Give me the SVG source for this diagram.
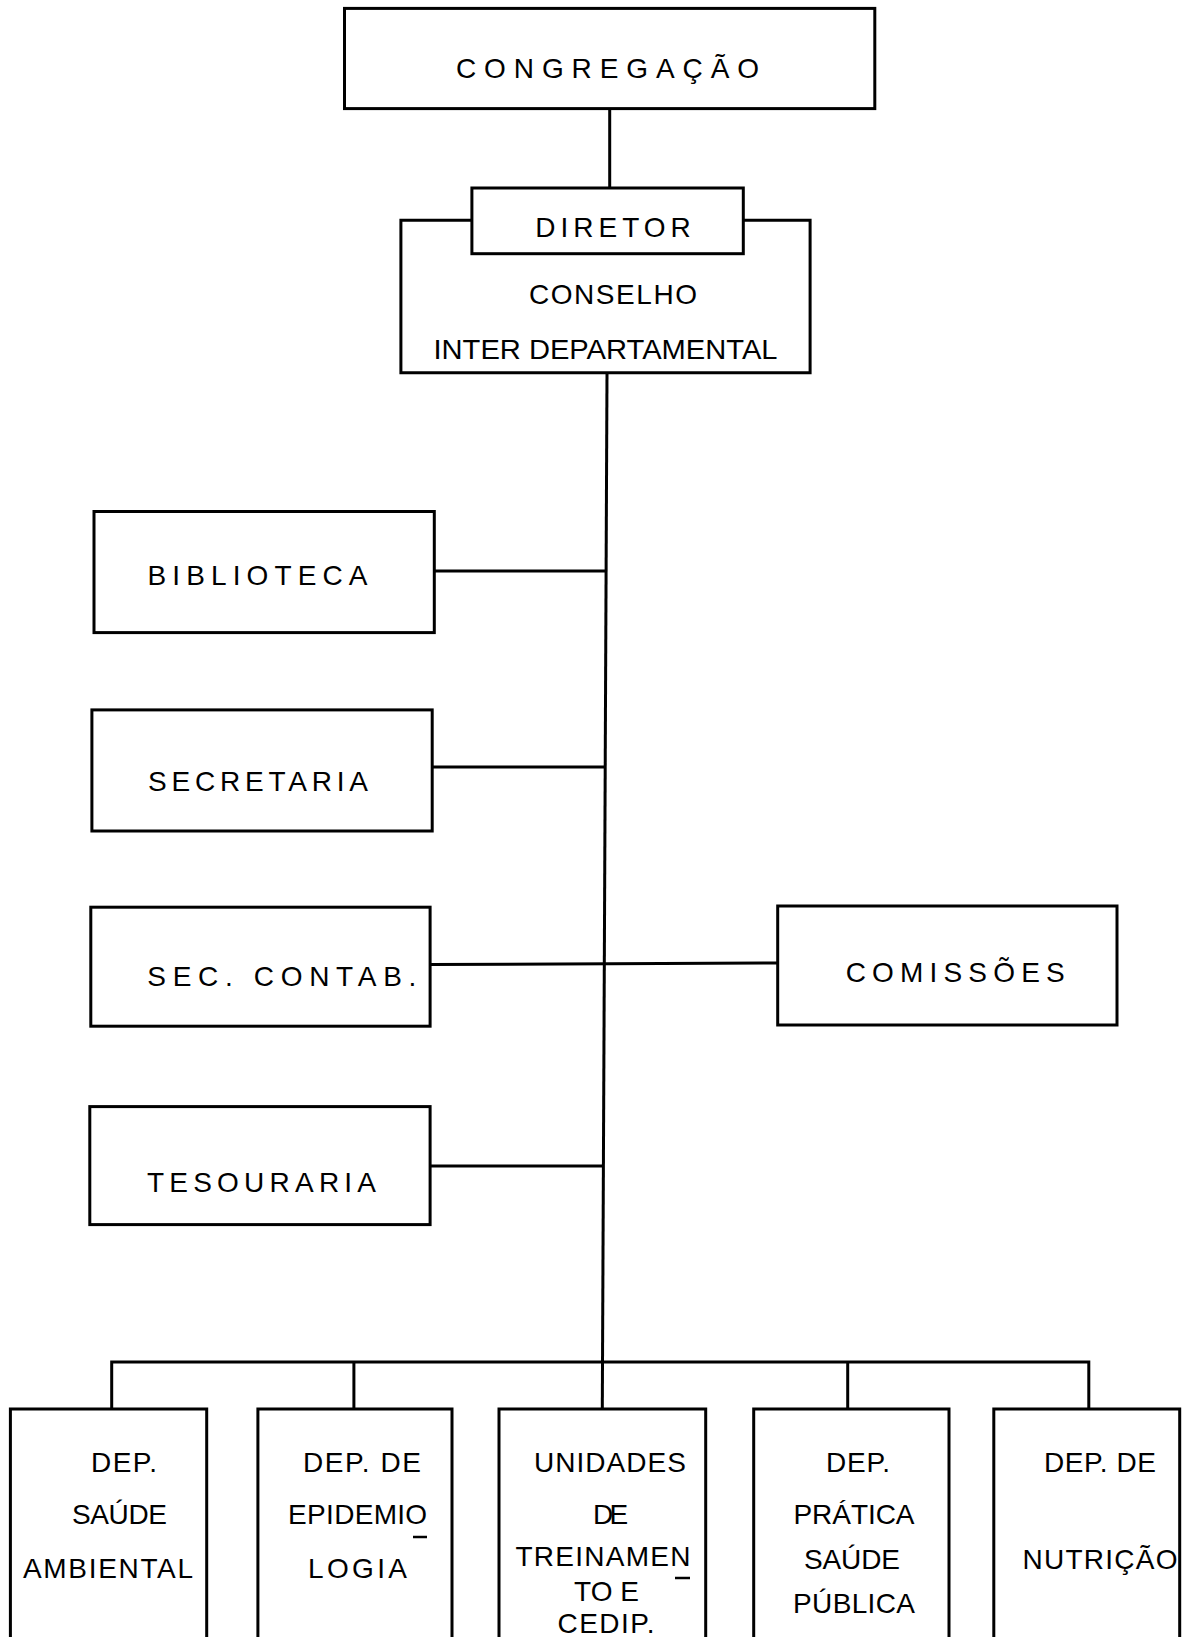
<svg xmlns="http://www.w3.org/2000/svg" width="1188" height="1637" viewBox="0 0 1188 1637">
<style>
.box{fill:none;stroke:#000;stroke-width:3}
.ln{fill:none;stroke:#000;stroke-width:3}
text{font-family:"Liberation Sans",Arial,sans-serif;font-size:28px;fill:#000;text-anchor:middle}
</style>
<rect width="1188" height="1637" fill="#fff"/>
<g id="connectors">
<line class="ln" x1="609.7" y1="108.6" x2="609.7" y2="188"/>
<polyline class="ln" points="607,372.7 602.3,1409"/>
<line class="ln" x1="434.3" y1="571" x2="606" y2="571"/>
<line class="ln" x1="432.2" y1="767" x2="605.5" y2="767"/>
<line class="ln" x1="430.1" y1="964.6" x2="777.7" y2="963"/>
<line class="ln" x1="430.1" y1="1166" x2="604" y2="1166"/>
<polyline class="ln" points="111.7,1409 111.7,1362 1088.8,1362 1088.8,1409"/>
<line class="ln" x1="353.9" y1="1362" x2="353.9" y2="1409"/>
<line class="ln" x1="847.7" y1="1362" x2="847.7" y2="1409"/>
</g>
<g id="congregacao">
<rect class="box" x="344.5" y="8.4" width="530.3" height="100.2"/>
<text x="607.5" y="78" textLength="303" lengthAdjust="spacing">CONGREGAÇÃO</text>
</g>
<g id="conselho">
<polyline class="box" points="471.9,220.3 400.9,220.3 400.9,372.7 810.1,372.7 810.1,220.3 743.3,220.3"/>
<text x="613" y="303.8" textLength="168" lengthAdjust="spacing">CONSELHO</text>
<text x="605.5" y="359" textLength="344" lengthAdjust="spacingAndGlyphs">INTER DEPARTAMENTAL</text>
</g>
<g id="diretor">
<rect class="box" x="471.9" y="188" width="271.4" height="65.7" fill="#fff"/>
<text x="613" y="237" textLength="155.5" lengthAdjust="spacing">DIRETOR</text>
</g>
<g id="biblioteca">
<rect class="box" x="94" y="511.5" width="340.3" height="121.1"/>
<text x="257.5" y="585" textLength="220" lengthAdjust="spacing">BIBLIOTECA</text>
</g>
<g id="secretaria">
<rect class="box" x="91.9" y="709.9" width="340.3" height="121.1"/>
<text x="258" y="791.3" textLength="220" lengthAdjust="spacing">SECRETARIA</text>
</g>
<g id="sec-contab">
<rect class="box" x="90.8" y="907.2" width="339.3" height="119"/>
<text x="281.8" y="986" textLength="269" lengthAdjust="spacing">SEC. CONTAB.</text>
</g>
<g id="comissoes">
<rect class="box" x="777.7" y="906" width="339.3" height="119"/>
<text x="955.2" y="982" textLength="219" lengthAdjust="spacing">COMISSÕES</text>
</g>
<g id="tesouraria">
<rect class="box" x="89.8" y="1106.6" width="340.3" height="118"/>
<text x="261.5" y="1192" textLength="229" lengthAdjust="spacing">TESOURARIA</text>
</g>
<g id="dep-saude-ambiental">
<polyline class="box" points="10.4,1645 10.4,1409 206.7,1409 206.7,1645"/>
<text x="124" y="1472" textLength="66" lengthAdjust="spacing">DEP.</text>
<text x="119.5" y="1524" textLength="95" lengthAdjust="spacing">SAÚDE</text>
<text x="108" y="1578" textLength="170" lengthAdjust="spacing">AMBIENTAL</text>
</g>
<g id="dep-epidemiologia">
<polyline class="box" points="257.9,1645 257.9,1409 452,1409 452,1645"/>
<text x="362" y="1472" textLength="118" lengthAdjust="spacing">DEP. DE</text>
<text x="357.6" y="1524" textLength="139" lengthAdjust="spacing">EPIDEMIO</text>
<line x1="413" y1="1537" x2="427" y2="1537" stroke="#000" stroke-width="2.5"/>
<text x="357.5" y="1578" textLength="99" lengthAdjust="spacing">LOGIA</text>
</g>
<g id="unidades-treinamento">
<polyline class="box" points="499,1645 499,1409 705.7,1409 705.7,1645"/>
<text x="610" y="1472" textLength="152" lengthAdjust="spacing">UNIDADES</text>
<text x="610.6" y="1524" textLength="35" lengthAdjust="spacing">DE</text>
<text x="603" y="1566" textLength="175" lengthAdjust="spacing">TREINAMEN</text>
<line x1="675" y1="1578" x2="690" y2="1578" stroke="#000" stroke-width="2.5"/>
<text x="606.5" y="1601">TO E</text>
<text x="606" y="1633" textLength="97" lengthAdjust="spacing">CEDIP.</text>
</g>
<g id="dep-pratica-saude-publica">
<polyline class="box" points="753.7,1645 753.7,1409 949,1409 949,1645"/>
<text x="858" y="1472" textLength="64" lengthAdjust="spacing">DEP.</text>
<text x="854" y="1524" textLength="121" lengthAdjust="spacing">PRÁTICA</text>
<text x="852" y="1569" textLength="96" lengthAdjust="spacing">SAÚDE</text>
<text x="854" y="1613" textLength="122" lengthAdjust="spacing">PÚBLICA</text>
</g>
<g id="dep-nutricao">
<polyline class="box" points="993.8,1645 993.8,1409 1179.7,1409 1179.7,1645"/>
<text x="1100" y="1472" textLength="112" lengthAdjust="spacing">DEP. DE</text>
<text x="1100" y="1569" textLength="155" lengthAdjust="spacing">NUTRIÇÃO</text>
</g>
</svg>
